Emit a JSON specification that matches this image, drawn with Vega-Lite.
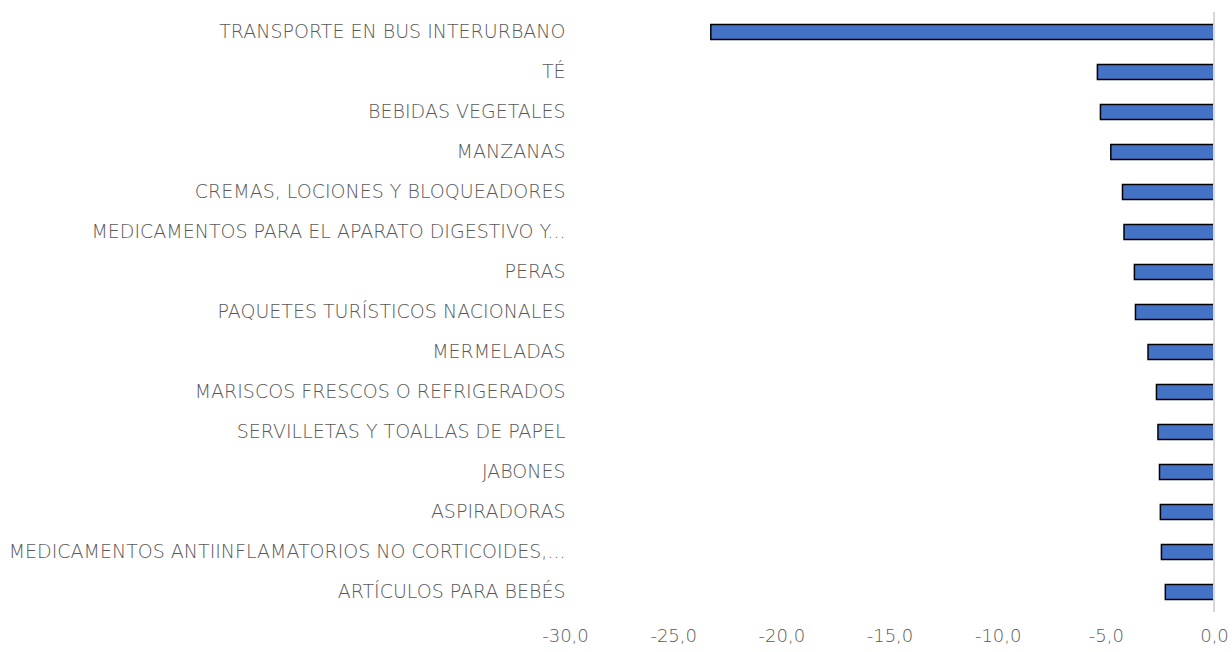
{
  "$schema": "https://vega.github.io/schema/vega-lite/v6.json",
  "autosize": {"type": "none"},
  "padding": {"left": 565, "top": 12, "right": 18, "bottom": 40},
  "width": 649,
  "height": 600,
  "background": "white",
  "config": {"view": {"stroke": null}, "font": "DejaVu Sans"},
  "data": {"values": [
    {"item": "TRANSPORTE EN BUS INTERURBANO", "value": -23.26},
    {"item": "TÉ", "value": -5.39},
    {"item": "BEBIDAS VEGETALES", "value": -5.25},
    {"item": "MANZANAS", "value": -4.77},
    {"item": "CREMAS, LOCIONES Y BLOQUEADORES", "value": -4.23},
    {"item": "MEDICAMENTOS PARA EL APARATO DIGESTIVO Y...", "value": -4.16},
    {"item": "PERAS", "value": -3.68},
    {"item": "PAQUETES TURÍSTICOS NACIONALES", "value": -3.63},
    {"item": "MERMELADAS", "value": -3.05},
    {"item": "MARISCOS FRESCOS O REFRIGERADOS", "value": -2.66},
    {"item": "SERVILLETAS Y TOALLAS DE PAPEL", "value": -2.59},
    {"item": "JABONES", "value": -2.52},
    {"item": "ASPIRADORAS", "value": -2.48},
    {"item": "MEDICAMENTOS ANTIINFLAMATORIOS NO CORTICOIDES,...", "value": -2.43},
    {"item": "ARTÍCULOS PARA BEBÉS", "value": -2.25}
  ]},
  "layer": [
    {
      "mark": {"type": "bar", "color": "#4472C4", "stroke": "#000000", "strokeWidth": 1.5},
      "encoding": {
        "y": {
          "field": "item", "type": "nominal", "sort": null,
          "scale": {"paddingInner": 0.62, "paddingOuter": 0.31},
          "axis": {"title": null, "domain": false, "ticks": false, "labelPadding": 0, "labelLimit": 0,
                   "labelFontSize": 19, "labelColor": "#595959", "labelFont": "DejaVu Sans", "labelFontWeight": 200}
        },
        "x": {
          "field": "value", "type": "quantitative",
          "scale": {"domain": [-30, 0], "nice": false, "zero": false},
          "axis": {"title": null, "domain": false, "ticks": false, "grid": false, "labelFlush": false,
                   "values": [-30, -25, -20, -15, -10, -5, 0],
                   "labelExpr": "replace(replace(format(datum.value, '.1f'), '.', ','), '−', '-')",
                   "labelPadding": 15, "labelFontSize": 18, "labelColor": "#595959", "labelFont": "DejaVu Sans", "labelFontWeight": 200}
        }
      }
    },
    {
      "data": {"values": [{"zero": 0}]},
      "mark": {"type": "rule", "color": "#D9D9D9", "strokeWidth": 2},
      "encoding": {"x": {"field": "zero", "type": "quantitative"}}
    }
  ]
}
